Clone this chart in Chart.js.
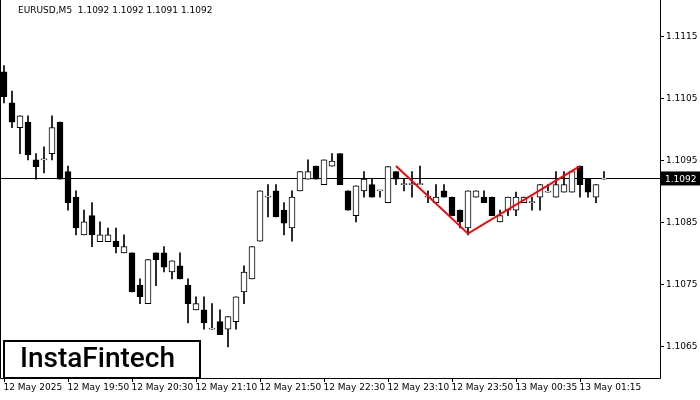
<!DOCTYPE html>
<html><head><meta charset="utf-8">
<script src="https://cdn.jsdelivr.net/npm/chart.js@4/dist/chart.umd.min.js"></script>
<style>html,body{margin:0;background:#fff}canvas{display:block}</style>
</head><body>
<canvas id="c" width="700" height="400"></canvas>
<script>
// EURUSD M5 candles: open, high, low, close
const opens  = [1.11092,1.11042,1.11002,1.11011,1.10950,1.10950,1.10960,1.11011,1.10931,1.10890,1.10829,1.10860,1.10818,1.10818,1.10819,1.10800,1.10800,1.10748,1.10718,1.10800,1.10800,1.10769,1.10779,1.10748,1.10708,1.10708,1.10677,1.10689,1.10677,1.10689,1.10737,1.10758,1.10819,1.10890,1.10900,1.10869,1.10840,1.10900,1.10919,1.10940,1.10910,1.10940,1.10960,1.10900,1.10860,1.10900,1.10910,1.10900,1.10881,1.10931,1.10910,1.10910,1.10910,1.10890,1.10881,1.10900,1.10890,1.10869,1.10840,1.10890,1.10890,1.10890,1.10850,1.10869,1.10869,1.10881,1.10881,1.10890,1.10898,1.10890,1.10898,1.10898,1.10940,1.10919,1.10890,1.10919];
const highs  = [1.11102,1.11061,1.11021,1.11021,1.10960,1.10971,1.11021,1.11011,1.10940,1.10900,1.10869,1.10881,1.10850,1.10840,1.10840,1.10829,1.10800,1.10758,1.10789,1.10800,1.10810,1.10787,1.10800,1.10758,1.10729,1.10729,1.10718,1.10708,1.10697,1.10729,1.10779,1.10810,1.10900,1.10910,1.10910,1.10881,1.10900,1.10931,1.10950,1.10940,1.10950,1.10960,1.10960,1.10900,1.10908,1.10931,1.10919,1.10900,1.10939,1.10931,1.10919,1.10931,1.10940,1.10900,1.10910,1.10910,1.10890,1.10869,1.10900,1.10900,1.10900,1.10890,1.10869,1.10890,1.10898,1.10890,1.10890,1.10910,1.10910,1.10931,1.10931,1.10931,1.10940,1.10919,1.10910,1.10931];
const lows   = [1.11042,1.11002,1.10960,1.10950,1.10919,1.10929,1.10950,1.10919,1.10869,1.10829,1.10829,1.10810,1.10818,1.10818,1.10800,1.10800,1.10737,1.10718,1.10718,1.10747,1.10769,1.10758,1.10758,1.10687,1.10708,1.10677,1.10677,1.10668,1.10648,1.10677,1.10718,1.10758,1.10819,1.10858,1.10858,1.10829,1.10819,1.10900,1.10919,1.10919,1.10910,1.10940,1.10910,1.10869,1.10850,1.10890,1.10890,1.10890,1.10881,1.10910,1.10900,1.10890,1.10910,1.10881,1.10881,1.10890,1.10860,1.10840,1.10829,1.10890,1.10881,1.10860,1.10850,1.10860,1.10860,1.10881,1.10869,1.10869,1.10898,1.10890,1.10898,1.10898,1.10890,1.10890,1.10881,1.10919];
const closes = [1.11052,1.11011,1.11021,1.10958,1.10939,1.10950,1.11002,1.10919,1.10881,1.10840,1.10850,1.10829,1.10829,1.10829,1.10810,1.10810,1.10737,1.10729,1.10789,1.10789,1.10777,1.10787,1.10758,1.10718,1.10718,1.10687,1.10677,1.10668,1.10697,1.10729,1.10769,1.10810,1.10900,1.10890,1.10858,1.10848,1.10890,1.10931,1.10931,1.10919,1.10950,1.10948,1.10910,1.10869,1.10908,1.10919,1.10890,1.10900,1.10939,1.10919,1.10910,1.10910,1.10910,1.10890,1.10890,1.10890,1.10860,1.10850,1.10900,1.10900,1.10881,1.10860,1.10860,1.10890,1.10890,1.10890,1.10881,1.10910,1.10898,1.10910,1.10910,1.10931,1.10910,1.10898,1.10910,1.10919];

const priceTicks = [1.1065,1.1075,1.1085,1.1095,1.1105,1.1115];
const timeLabels = ['12 May 2025','12 May 19:50','12 May 20:30','12 May 21:10','12 May 21:50','12 May 22:30','12 May 23:10','12 May 23:50','13 May 00:35','13 May 01:15'];
const timeIdx    = [0,8,16,24,32,40,48,56,64,72];

// double bottom pattern
const patternX = [49,58,72];
const patternY = [1.10940,1.10831,1.10940];
const lastPrice = 1.1092;

const bodies = opens.map((o,i) => ({x:i, y:[o, closes[i]]}));
const wicks  = highs.map((h,i) => ({x:i, y:[lows[i], h]}));
const bodyFill = opens.map((o,i) => closes[i] >= o ? '#fff' : '#000');

const FONT = '9px "DejaVu Sans", sans-serif';

const decor = {
  id:'decor',
  beforeDatasetsDraw(chart){
    const {ctx, chartArea:a, scales:{y}} = chart;
    ctx.save();
    ctx.strokeStyle = '#000'; ctx.lineWidth = 1;
    const py = Math.round(y.getPixelForValue(lastPrice)) + .5;
    ctx.beginPath(); ctx.moveTo(a.left, py); ctx.lineTo(a.right, py); ctx.stroke();
    ctx.restore();
  },
  afterDraw(chart){
    const {ctx, chartArea:a, scales:{x,y}} = chart;
    ctx.save();
    ctx.strokeStyle = '#000'; ctx.lineWidth = 1;
    ctx.beginPath();
    ctx.moveTo(a.left+.5, a.top); ctx.lineTo(a.left+.5, a.bottom+.5);
    ctx.lineTo(a.right+.5, a.bottom+.5); ctx.lineTo(a.right+.5, a.top);
    ctx.stroke();
    ctx.font = FONT; ctx.fillStyle = '#000'; ctx.textBaseline = 'middle';
    priceTicks.forEach(v => {
      const py = Math.round(y.getPixelForValue(v)) + .5;
      ctx.beginPath(); ctx.moveTo(a.right, py); ctx.lineTo(a.right+4, py); ctx.stroke();
      ctx.fillText(v.toFixed(4), a.right+6, py);
    });
    ctx.textBaseline = 'top';
    timeIdx.forEach((k,j) => {
      const px = Math.round(x.getPixelForValue(k)) + .5;
      ctx.beginPath(); ctx.moveTo(px, a.bottom); ctx.lineTo(px, a.bottom+4); ctx.stroke();
      ctx.fillText(timeLabels[j], px-1, a.bottom+5);
    });
    // last price box
    const ly = y.getPixelForValue(lastPrice);
    ctx.fillStyle = '#000'; ctx.fillRect(a.right+1, ly-7, 39, 14);
    ctx.fillStyle = '#fff'; ctx.textBaseline = 'middle';
    ctx.fillText(lastPrice.toFixed(4), a.right+5, ly+1);
    // header
    ctx.fillStyle = '#000'; ctx.textBaseline = 'top';
    ctx.fillText('EURUSD,M5  1.1092 1.1092 1.1091 1.1092', 18, 6);
    // logo
    ctx.fillStyle = '#fff'; ctx.fillRect(3, 340, 197, 38);
    ctx.lineWidth = 2; ctx.strokeRect(4, 341, 196, 37);
    ctx.fillStyle = '#000'; ctx.font = '500 28px Roboto, sans-serif'; ctx.textBaseline = 'middle';
    ctx.fillText('InstaFintech', 20, 360);
    ctx.restore();
  }
};

new Chart(document.getElementById('c'), {
  type:'bar',
  data:{
    datasets:[
      {type:'line', data:patternX.map((v,i)=>({x:v, y:patternY[i]})), borderColor:'#f00', borderWidth:2, pointRadius:0, order:0},
      {data:bodies, backgroundColor:bodyFill, borderColor:'#000', borderWidth:1, borderSkipped:false, barThickness:6, minBarLength:1, grouped:false, order:1},
      {data:wicks, backgroundColor:'#000', borderWidth:0, barThickness:1, grouped:false, order:2}
    ]
  },
  options:{
    responsive:false, animation:false,
    layout:{padding:{left:0, top:0, right:40, bottom:22}},
    plugins:{legend:{display:false}, tooltip:{enabled:false}},
    scales:{
      x:{type:'linear', min:-0.5, max:82, display:false, offset:false},
      y:{min:1.10598, max:1.11208, display:false}
    }
  },
  plugins:[decor]
});
</script>
</body></html>
